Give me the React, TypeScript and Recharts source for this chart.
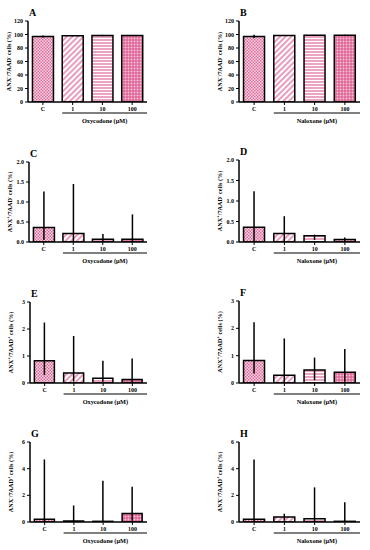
import { BarChart, Bar, XAxis, YAxis, ErrorBar, Cell, Label } from 'recharts';

const doses = ['C', '1', '10', '100'];

// A / B  ANX-/7AAD- cells
const viableOxyMean = [97, 98, 98.5, 98.5];
const viableOxyLow = [95.5, 97.5, 97.5, 98];
const viableOxyHigh = [98.5, 98.5, 99.5, 99];
const viableNalMean = [97, 98.5, 99, 99];
const viableNalLow = [95, 98, 98.5, 98.5];
const viableNalHigh = [99.5, 99, 99.5, 99.5];

// C / D  ANX+/7AAD- cells
const earlyOxyMean = [0.36, 0.21, 0.07, 0.07];
const earlyOxyLow = [0.05, 0, 0, 0];
const earlyOxyHigh = [1.26, 1.45, 0.2, 0.69];
const earlyNalMean = [0.36, 0.21, 0.15, 0.06];
const earlyNalLow = [0, 0, 0.05, 0];
const earlyNalHigh = [1.24, 0.63, 0.18, 0.11];

// E / F  ANX+/7AAD+ cells
const lateOxyMean = [0.82, 0.37, 0.18, 0.13];
const lateOxyLow = [0.3, 0.05, 0.05, 0];
const lateOxyHigh = [2.24, 1.74, 0.82, 0.91];
const lateNalMean = [0.82, 0.28, 0.48, 0.39];
const lateNalLow = [0.35, 0, 0.1, 0.05];
const lateNalHigh = [2.22, 1.63, 0.93, 1.24];

// G / H  ANX-/7AAD+ cells
const necOxyMean = [0.2, 0.07, 0.05, 0.63];
const necOxyLow = [0, 0, 0, 0.1];
const necOxyHigh = [4.69, 1.24, 3.1, 2.65];
const necNalMean = [0.2, 0.37, 0.24, 0.05];
const necNalLow = [0, 0.1, 0, 0];
const necNalHigh = [4.69, 0.62, 2.6, 1.49];

const viableTicks = [0, 20, 40, 60, 80, 100, 120];
const earlyTicks = [0, 0.5, 1, 1.5, 2];
const lateTicks = [0, 1, 2, 3];
const necTicks = [0, 2, 4, 6];

const pink = '#e0679b';
const fills = ['url(#pChk)', 'url(#pDiag)', 'url(#pHor)', 'url(#pGrid)'];
const font = '"Liberation Serif", "Times New Roman", serif';

function buildRows(mean: number[], low: number[], high: number[]) {
  return doses.map((name, i) => ({
    name,
    value: mean[i],
    err: [mean[i] - low[i], high[i] - mean[i]],
  }));
}

function YLabel({ viewBox, title, a, b }: any) {
  const { x, y, width, height } = viewBox;
  const cx = x + width - 20;
  const cy = y + height / 2;
  return (
    <g fontFamily={font} fontWeight="bold" fill="#000">
      <text x={x + width + 1} y={y - 5} fontSize={10}>{title}</text>
      <text
        x={cx}
        y={cy}
        fontSize={6.2}
        textAnchor="middle"
        dominantBaseline="central"
        transform={`rotate(-90 ${cx} ${cy})`}
      >
        ANX<tspan dy={-2} fontSize={4.5}>{a}</tspan>
        <tspan dy={2}>/7AAD</tspan>
        <tspan dy={-2} fontSize={4.5}>{b}</tspan>
        <tspan dy={2}> cells (%)</tspan>
      </text>
    </g>
  );
}

function DrugLabel({ viewBox, drug }: any) {
  const { x, y, width } = viewBox;
  const band = width / 4;
  const start = x + band + band * 0.15;
  const end = x + width;
  return (
    <g fontFamily={font} fontWeight="bold">
      <line x1={start} x2={end} y1={y + 11} y2={y + 11} stroke="#000" strokeWidth={1} />
      <text x={(start + end) / 2} y={y + 18} fontSize={6.3} textAnchor="middle" dominantBaseline="central" fill="#000">
        {drug} (μM)
      </text>
    </g>
  );
}

interface PanelProps {
  left: number;
  x0: number;
  x1: number;
  plotTop: number;
  plotBottom: number;
  title: string;
  a: string;
  b: string;
  drug: string;
  rows: { name: string; value: number; err: number[] }[];
  ticks: number[];
  decimals?: number;
}

function Panel({ left, x0, x1, plotTop, plotBottom, title, a, b, drug, rows, ticks, decimals = 0 }: PanelProps) {
  const height = plotBottom - plotTop + 21 + 28;
  const tickStyle = { fontSize: 6, fill: '#000', fontWeight: 'bold', fontFamily: font };
  return (
    <div style={{ position: 'absolute', left, top: plotTop - 21 }}>
      <BarChart
        width={185}
        height={height}
        data={rows}
        margin={{ top: 21, right: left + 185 - x1, bottom: 0, left: 0 }}
        barCategoryGap="15%"
      >
        <XAxis
          dataKey="name"
          height={28}
          interval={0}
          tickSize={3}
          tick={tickStyle}
          axisLine={{ stroke: '#000', strokeWidth: 1.5 }}
          tickLine={{ stroke: '#000', strokeWidth: 1 }}
        >
          <Label content={(p: any) => <DrugLabel {...p} drug={drug} />} />
        </XAxis>
        <YAxis
          width={x0 - left}
          domain={[ticks[0], ticks[ticks.length - 1]]}
          ticks={ticks}
          tickSize={3}
          tick={tickStyle}
          tickFormatter={(v: number) => v.toFixed(decimals)}
          axisLine={{ stroke: '#000', strokeWidth: 1.5 }}
          tickLine={{ stroke: '#000', strokeWidth: 1 }}
          allowDataOverflow
        >
          <Label content={(p: any) => <YLabel {...p} title={title} a={a} b={b} />} />
        </YAxis>
        <Bar dataKey="value" stroke="#000" strokeWidth={1.5} isAnimationActive={false}>
          {rows.map((r, i) => (
            <Cell key={r.name} fill={fills[i]} />
          ))}
          <ErrorBar dataKey="err" width={0} stroke="#000" strokeWidth={1.5} />
        </Bar>
      </BarChart>
    </div>
  );
}

export default function App() {
  return (
    <div style={{ position: 'absolute', left: 0, top: 0, width: 370, height: 550, background: '#fff', overflow: 'hidden' }}>
      <svg width={0} height={0} style={{ position: 'absolute' }}>
        <defs>
          <pattern id="pChk" width="3" height="3" patternUnits="userSpaceOnUse">
            <rect width="3" height="3" fill="#f8dbe7" />
            <rect x="0" y="0" width="1.5" height="1.5" fill={pink} />
            <rect x="1.5" y="1.5" width="1.5" height="1.5" fill={pink} />
          </pattern>
          <pattern id="pDiag" width="4" height="4" patternUnits="userSpaceOnUse" patternTransform="rotate(45)">
            <rect width="4" height="4" fill="#fff" />
            <line x1="1" y1="0" x2="1" y2="4" stroke={pink} strokeWidth="1.3" />
          </pattern>
          <pattern id="pHor" width="3" height="3" patternUnits="userSpaceOnUse">
            <rect width="3" height="3" fill="#fff" />
            <line x1="0" y1="1" x2="3" y2="1" stroke={pink} strokeWidth="1.2" />
          </pattern>
          <pattern id="pGrid" width="3" height="3" patternUnits="userSpaceOnUse">
            <rect width="3" height="3" fill="#f6c6d9" />
            <line x1="0" y1="1" x2="3" y2="1" stroke="#d9508a" strokeWidth="1" />
            <line x1="1" y1="0" x2="1" y2="3" stroke="#d9508a" strokeWidth="1" />
          </pattern>
        </defs>
      </svg>

      <Panel left={0} x0={28} x1={147} plotTop={21} plotBottom={102} title="A" a="-" b="-" drug="Oxycodone"
        rows={buildRows(viableOxyMean, viableOxyLow, viableOxyHigh)} ticks={viableTicks} />
      <Panel left={185} x0={239} x1={360} plotTop={21} plotBottom={102} title="B" a="-" b="-" drug="Naloxone"
        rows={buildRows(viableNalMean, viableNalLow, viableNalHigh)} ticks={viableTicks} />

      <Panel left={0} x0={29} x1={147} plotTop={162} plotBottom={242} title="C" a="+" b="-" drug="Oxycodone"
        rows={buildRows(earlyOxyMean, earlyOxyLow, earlyOxyHigh)} ticks={earlyTicks} decimals={1} />
      <Panel left={185} x0={239} x1={360} plotTop={160} plotBottom={242} title="D" a="+" b="-" drug="Naloxone"
        rows={buildRows(earlyNalMean, earlyNalLow, earlyNalHigh)} ticks={earlyTicks} decimals={1} />

      <Panel left={0} x0={30} x1={147} plotTop={302} plotBottom={383} title="E" a="+" b="+" drug="Oxycodone"
        rows={buildRows(lateOxyMean, lateOxyLow, lateOxyHigh)} ticks={lateTicks} />
      <Panel left={185} x0={239} x1={360} plotTop={301} plotBottom={383} title="F" a="+" b="+" drug="Naloxone"
        rows={buildRows(lateNalMean, lateNalLow, lateNalHigh)} ticks={lateTicks} />

      <Panel left={0} x0={30} x1={147} plotTop={442} plotBottom={522} title="G" a="-" b="+" drug="Oxycodone"
        rows={buildRows(necOxyMean, necOxyLow, necOxyHigh)} ticks={necTicks} />
      <Panel left={185} x0={239} x1={360} plotTop={442} plotBottom={522} title="H" a="-" b="+" drug="Naloxone"
        rows={buildRows(necNalMean, necNalLow, necNalHigh)} ticks={necTicks} />
    </div>
  );
}
